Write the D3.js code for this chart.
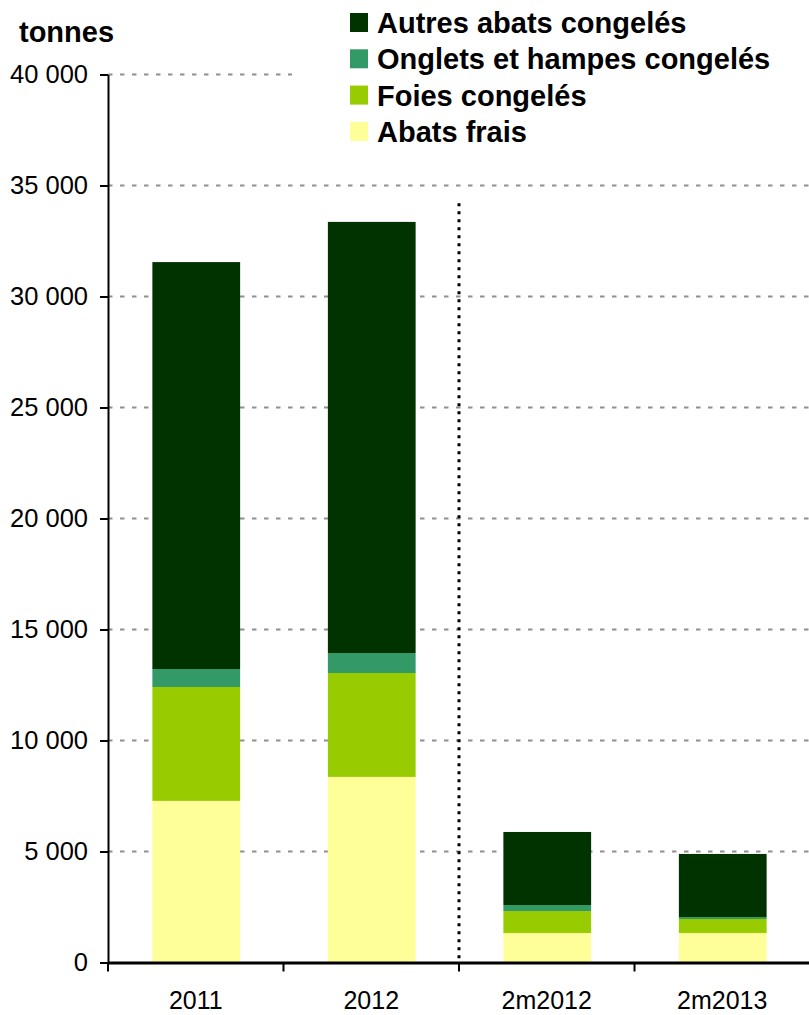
<!DOCTYPE html>
<html>
<head>
<meta charset="utf-8">
<script src="https://cdn.jsdelivr.net/npm/d3@7"></script>
<style>
  body { margin: 0; background: #fff; }
  svg { display: block; font-family: "Liberation Sans", Arial, sans-serif; }
</style>
</head>
<body>
<div id="chart"></div>
<script>
// Data (tonnes)
const categories = ['2011', '2012', '2m2012', '2m2013'];
const abatsFrais = [7280, 8360, 1330, 1330];
const foiesCongeles = [5130, 4680, 990, 630];
const ongletsHampes = [810, 900, 270, 90];
const autresAbats = [18330, 19420, 3290, 2840];
const yTicks = [0, 5000, 10000, 15000, 20000, 25000, 30000, 35000, 40000];
const separatorTop = 34200; // top of the dotted separator

const seriesNames = ['Abats frais', 'Foies congelés', 'Onglets et hampes congelés', 'Autres abats congelés'];
const seriesColors = ['#FFFF99', '#99CC00', '#339966', '#003300'];

const W = 809, H = 1015;
const svg = d3.select('#chart').append('svg')
  .attr('width', W)
  .attr('height', H);

// Build rows for stacking
const rows = categories.map((c, i) => ({
  cat: c,
  'Abats frais': abatsFrais[i],
  'Foies congelés': foiesCongeles[i],
  'Onglets et hampes congelés': ongletsHampes[i],
  'Autres abats congelés': autresAbats[i]
}));
const stacked = d3.stack().keys(seriesNames)(rows);

// Scales
const x = d3.scaleBand()
  .domain(categories)
  .range([108, 810])
  .padding(0);

const y = d3.scaleLinear()
  .domain([0, 40000])
  .range([962.5, 74.5]);

const color = d3.scaleOrdinal()
  .domain(seriesNames)
  .range(seriesColors);

const fmt = v => d3.format(',')(v).replace(/,/g, ' ');

// Gridlines (dashed grey)
svg.append('g')
  .selectAll('line')
  .data(yTicks.filter(d => d > 0))
  .enter().append('line')
  .attr('x1', 108)
  .attr('x2', 809)
  .attr('y1', d => y(d))
  .attr('y2', d => y(d))
  .attr('stroke', '#8f8f8f')
  .attr('stroke-width', 2)
  .attr('stroke-dasharray', '4.5,7.5');

// Bars
const barW = x.bandwidth() * 0.5;
svg.append('g')
  .selectAll('g')
  .data(stacked)
  .enter().append('g')
  .attr('fill', d => color(d.key))
  .selectAll('rect')
  .data(d => d)
  .enter().append('rect')
  .attr('x', d => x(d.data.cat) + (x.bandwidth() - barW) / 2 + 0.5)
  .attr('width', barW)
  .attr('y', d => y(d[1]))
  .attr('height', d => y(d[0]) - y(d[1]));

// Dotted separator between annual and 2-month figures
svg.append('line')
  .attr('x1', x('2m2012'))
  .attr('x2', x('2m2012'))
  .attr('y1', y(separatorTop))
  .attr('y2', y(0))
  .attr('stroke', '#000')
  .attr('stroke-width', 3)
  .attr('stroke-dasharray', '3,5');

// Y axis
const yAxis = svg.append('g')
  .attr('transform', 'translate(108,0)')
  .call(d3.axisLeft(y).tickValues(yTicks).tickFormat(fmt).tickSize(8).tickSizeOuter(0).tickPadding(12));
yAxis.select('.domain').attr('stroke', '#000').attr('stroke-width', 2);
yAxis.selectAll('.tick line').attr('stroke', '#000').attr('stroke-width', 2);
yAxis.selectAll('text')
  .style('font-size', '25.5px')
  .style('font-family', '"Liberation Sans", Arial, sans-serif')
  .attr('fill', '#000');

// X axis
const xAxis = svg.append('g')
  .attr('transform', `translate(0,${y(0)})`)
  .call(d3.axisBottom(x).tickSize(0).tickPadding(28.5));
xAxis.select('.domain').attr('stroke', '#000').attr('stroke-width', 3);
xAxis.selectAll('text')
  .style('font-size', '25px')
  .style('font-family', '"Liberation Sans", Arial, sans-serif')
  .attr('fill', '#000');
xAxis.selectAll('.sep-tick')
  .data(categories)
  .enter().append('line')
  .attr('class', 'sep-tick')
  .attr('x1', d => x(d))
  .attr('x2', d => x(d))
  .attr('y1', 0)
  .attr('y2', 9)
  .attr('stroke', '#000')
  .attr('stroke-width', 2);

// Unit label
svg.append('text')
  .attr('x', 19)
  .attr('y', 42)
  .style('font-size', '29px')
  .style('font-weight', 'bold')
  .text('tonnes');

// Legend (white box hides the top gridline behind it)
const legend = svg.append('g')
  .attr('class', 'legend');

legend.append('rect')
  .attr('x', 292)
  .attr('y', 0)
  .attr('width', W - 292)
  .attr('height', 150)
  .attr('fill', '#fff');

const legendItems = legend.selectAll('.legend-item')
  .data(seriesNames.slice().reverse())
  .enter().append('g')
  .attr('class', 'legend-item')
  .attr('transform', (d, i) => `translate(350, ${13 + i * 36.3})`);

legendItems.append('rect')
  .attr('width', 18)
  .attr('height', 19)
  .attr('fill', d => color(d));

legendItems.append('text')
  .attr('x', 27)
  .attr('y', 20)
  .style('font-size', '29px')
  .style('font-weight', 'bold')
  .text(d => d);
</script>
</body>
</html>
